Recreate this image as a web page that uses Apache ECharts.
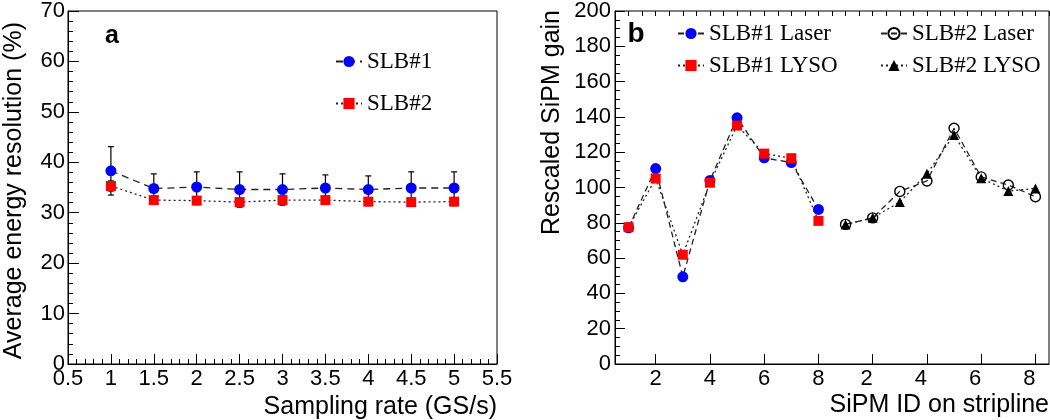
<!DOCTYPE html>
<html>
<head>
<meta charset="utf-8">
<script src="https://cdn.jsdelivr.net/npm/echarts@6/dist/echarts.min.js"></script>
<style>
  html, body { margin: 0; padding: 0; background: #fff; }
  #chart { width: 1050px; height: 420px; }
</style>
</head>
<body>
<div id="chart"></div>
<script>
// panel a: energy resolution vs sampling rate
var rate = [1, 1.5, 2, 2.5, 3, 3.5, 4, 4.5, 5];
var slb1Res = [38.3, 34.8, 35.1, 34.6, 34.6, 34.9, 34.6, 34.9, 34.9];
var slb1Err = [4.8, 2.9, 3.0, 3.5, 3.1, 2.6, 2.7, 3.2, 3.2];
var slb2Res = [35.3, 32.5, 32.4, 32.1, 32.5, 32.5, 32.2, 32.1, 32.2];
var slb2Err = [1.0, 0.8, 0.8, 0.8, 0.9, 0.8, 0.8, 0.8, 0.8];

// panel b: rescaled SiPM gain per SiPM on stripline
var sipmId1 = [1, 2, 3, 4, 5, 6, 7, 8];
var sipmId2 = [9, 10, 11, 12, 13, 14, 15, 16];
var slb1Laser = [77.2, 110.7, 49.4, 104.0, 139.5, 116.8, 114.1, 87.6];
var slb1Lyso = [77.5, 105.1, 61.9, 102.7, 135.1, 119.2, 116.6, 81.1];
var slb2Laser = [79.1, 82.8, 97.8, 103.7, 133.6, 106.0, 101.4, 94.8];
var slb2Lyso = [79.0, 82.8, 91.8, 107.8, 129.8, 105.3, 98.0, 99.5];
var idTickValues = [2, 4, 6, 8, 10, 12, 14, 16];
var idTickLabels = ['2', '4', '6', '8', '2', '4', '6', '8'];

var sans = 'Liberation Sans, Arial, sans-serif';
var serif = 'Liberation Serif, Times New Roman, serif';

function pairs(xs, ys) {
  return xs.map(function(x, i) { return [x, ys[i]]; });
}
function triples(xs, ys, es) {
  return xs.map(function(x, i) { return [x, ys[i], es[i]]; });
}

function errorBars(params, api) {
  var x = api.value(0), y = api.value(1), e = api.value(2);
  var top = api.coord([x, y + e]);
  var bot = api.coord([x, y - e]);
  var st = { stroke: '#000', lineWidth: 1.2 };
  return {
    type: 'group',
    children: [
      { type: 'line', shape: { x1: top[0], y1: top[1], x2: bot[0], y2: bot[1] }, style: st },
      { type: 'line', shape: { x1: top[0] - 3, y1: top[1], x2: top[0] + 3, y2: top[1] }, style: st },
      { type: 'line', shape: { x1: bot[0] - 3, y1: bot[1], x2: bot[0] + 3, y2: bot[1] }, style: st }
    ]
  };
}

var axisLine = { lineStyle: { color: '#000', width: 1 } };
var tickLabel = { color: '#000', fontFamily: sans, fontSize: 22 };
var legendText = { fontFamily: serif, fontSize: 23, color: '#000', lineHeight: 23 };

var chart = echarts.init(document.getElementById('chart'));
chart.setOption({
  animation: false,
  grid: [
    { left: 68, top: 9, width: 429, height: 355, show: true, borderColor: '#000', borderWidth: 1 },
    { left: 615, top: 9, width: 434, height: 355, show: true, borderColor: '#000', borderWidth: 1 }
  ],
  xAxis: [
    {
      gridIndex: 0, type: 'value', min: 0.5, max: 5.5, interval: 0.5,
      axisLine: axisLine,
      axisTick: { inside: true, length: 10, lineStyle: { color: '#000' } },
      minorTick: { show: true, splitNumber: 5, length: 5, lineStyle: { color: '#000' } },
      axisLabel: Object.assign({ margin: 4 }, tickLabel),
      splitLine: { show: false }
    },
    {
      gridIndex: 1, type: 'value', min: 0.5, max: 16.5,
      axisLine: axisLine,
      axisTick: { inside: true, length: 10, customValues: idTickValues, lineStyle: { color: '#000' } },
      axisLabel: Object.assign({
        margin: 4,
        customValues: idTickValues,
        formatter: function(v) {
          var i = idTickValues.indexOf(v);
          // second stripline labels sit a little left of their ticks
          return i >= 4 ? '{s|' + idTickLabels[i] + '}' : idTickLabels[i];
        },
        rich: { s: { fontFamily: sans, fontSize: 22, color: '#000', padding: [0, 12, 0, 0] } }
      }, tickLabel),
      splitLine: { show: false }
    },
    {
      // minor ticks for panel b
      gridIndex: 1, type: 'value', min: 0.5, max: 16.5, interval: 0.5,
      axisLine: { show: false },
      axisTick: { inside: true, length: 5, lineStyle: { color: '#000' } },
      axisLabel: { show: false },
      splitLine: { show: false }
    }
  ],
  yAxis: [
    {
      gridIndex: 0, type: 'value', min: 0, max: 70, interval: 10,
      axisLine: Object.assign({ show: true }, axisLine),
      axisTick: { show: true, inside: true, length: 11, lineStyle: { color: '#000' } },
      minorTick: { show: true, splitNumber: 5, length: 5, lineStyle: { color: '#000' } },
      axisLabel: Object.assign({ margin: 3 }, tickLabel),
      splitLine: { show: false }
    },
    {
      gridIndex: 1, type: 'value', min: 0, max: 200, interval: 20,
      axisLine: Object.assign({ show: true }, axisLine),
      axisTick: { show: true, inside: true, length: 10, lineStyle: { color: '#000' } },
      minorTick: { show: true, splitNumber: 4, length: 5, lineStyle: { color: '#000' } },
      axisLabel: Object.assign({ margin: 4 }, tickLabel),
      splitLine: { show: false }
    }
  ],
  legend: [
    {
      data: ['SLB#1', 'SLB#2'], orient: 'vertical', left: 335, top: 50, padding: 0,
      itemWidth: 26, itemHeight: 14, itemGap: 19, textStyle: legendText
    },
    {
      data: ['SLB#1 Laser', 'SLB#1 LYSO'], orient: 'vertical', left: 677, top: 22, padding: 0,
      itemWidth: 26, itemHeight: 14, itemGap: 9, textStyle: legendText
    },
    {
      data: ['SLB#2 Laser', 'SLB#2 LYSO'], orient: 'vertical', left: 880, top: 22, padding: 0,
      itemWidth: 26, itemHeight: 14, itemGap: 9, textStyle: legendText
    }
  ],
  graphic: [
    { type: 'text', x: 112, y: 36, style: { text: 'a', font: 'bold 25px ' + sans, fill: '#000', align: 'center', verticalAlign: 'middle', textAlign: 'center', textVerticalAlign: 'middle' } },
    { type: 'text', x: 636, y: 34, style: { text: 'b', font: 'bold 28px ' + sans, fill: '#000', align: 'center', verticalAlign: 'middle', textAlign: 'center', textVerticalAlign: 'middle' } },
    { type: 'text', x: 14, y: 22, rotation: Math.PI / 2, style: { text: 'Average energy resolution (%)', font: '25px ' + sans, fill: '#000', align: 'right', verticalAlign: 'middle', textAlign: 'right', textVerticalAlign: 'middle' } },
    { type: 'text', x: 552, y: 10, rotation: Math.PI / 2, style: { text: 'Rescaled SiPM gain', font: '25px ' + sans, fill: '#000', align: 'right', verticalAlign: 'middle', textAlign: 'right', textVerticalAlign: 'middle' } },
    { type: 'text', x: 497, y: 407, style: { text: 'Sampling rate (GS/s)', font: '25px ' + sans, fill: '#000', align: 'right', verticalAlign: 'middle', textAlign: 'right', textVerticalAlign: 'middle' } },
    { type: 'text', x: 1049, y: 405, style: { text: 'SiPM ID on stripline', font: '25px ' + sans, fill: '#000', align: 'right', verticalAlign: 'middle', textAlign: 'right', textVerticalAlign: 'middle' } }
  ],
  series: [
    {
      type: 'custom', xAxisIndex: 0, yAxisIndex: 0, z: 1,
      renderItem: errorBars, encode: { x: 0, y: 1 },
      data: triples(rate, slb1Res, slb1Err)
    },
    {
      type: 'custom', xAxisIndex: 0, yAxisIndex: 0, z: 1,
      renderItem: errorBars, encode: { x: 0, y: 1 },
      data: triples(rate, slb2Res, slb2Err)
    },
    {
      name: 'SLB#1', type: 'line', xAxisIndex: 0, yAxisIndex: 0, z: 3,
      symbol: 'circle', symbolSize: 11,
      itemStyle: { color: '#0000ff' },
      lineStyle: { color: '#222', width: 1.3, type: [7, 5] },
      data: pairs(rate, slb1Res)
    },
    {
      name: 'SLB#2', type: 'line', xAxisIndex: 0, yAxisIndex: 0, z: 2,
      symbol: 'rect', symbolSize: 10,
      itemStyle: { color: '#ff0000' },
      lineStyle: { color: '#222', width: 1.3, type: [2, 3] },
      data: pairs(rate, slb2Res)
    },
    {
      name: 'SLB#1 Laser', type: 'line', xAxisIndex: 1, yAxisIndex: 1,
      symbol: 'circle', symbolSize: 11,
      itemStyle: { color: '#0000ff' },
      lineStyle: { color: '#222', width: 1.3, type: [6, 4] },
      data: pairs(sipmId1, slb1Laser)
    },
    {
      name: 'SLB#1 LYSO', type: 'line', xAxisIndex: 1, yAxisIndex: 1,
      symbol: 'rect', symbolSize: 10,
      itemStyle: { color: '#ff0000' },
      lineStyle: { color: '#222', width: 1.3, type: [2, 3] },
      data: pairs(sipmId1, slb1Lyso)
    },
    {
      name: 'SLB#2 Laser', type: 'line', xAxisIndex: 1, yAxisIndex: 1,
      symbol: 'circle', symbolSize: 10,
      itemStyle: { color: 'rgba(0,0,0,0)', borderColor: '#000', borderWidth: 1.4 },
      lineStyle: { color: '#222', width: 1.3, type: [6, 4] },
      data: pairs(sipmId2, slb2Laser)
    },
    {
      name: 'SLB#2 LYSO', type: 'line', xAxisIndex: 1, yAxisIndex: 1,
      symbol: 'triangle', symbolSize: 10,
      itemStyle: { color: '#000' },
      lineStyle: { color: '#222', width: 1.3, type: [2, 3] },
      data: pairs(sipmId2, slb2Lyso)
    }
  ]
});
</script>
</body>
</html>
